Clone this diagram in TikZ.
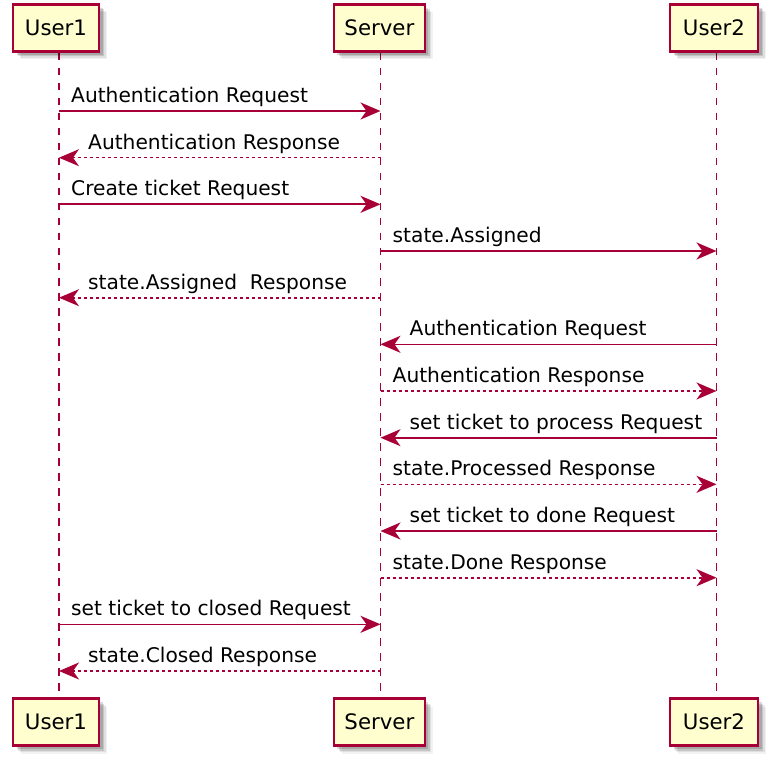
\documentclass[tikz,border=0pt]{standalone}
\usepackage{fontspec}
\setmainfont{DejaVu Sans}
\usetikzlibrary{arrows.meta,shadows}
\definecolor{puborder}{HTML}{A80036}
\definecolor{pufill}{HTML}{FEFECE}
\tikzset{
  partbox/.style={draw=puborder, fill=pufill, line width=2.2pt, minimum height=47pt, inner sep=0pt,
    font=\fontsize{21.3}{25}\selectfont,
    drop shadow={shadow xshift=8pt, shadow yshift=-8pt, fill=black, opacity=0.05},
    drop shadow={shadow xshift=6.5pt, shadow yshift=-6.5pt, fill=black, opacity=0.08},
    drop shadow={shadow xshift=5pt, shadow yshift=-5pt, fill=black, opacity=0.12},
    drop shadow={shadow xshift=3.5pt, shadow yshift=-3.5pt, fill=black, opacity=0.15}},
  lifeline/.style={draw=puborder, line width=1.5pt, dash pattern=on 7.5pt off 7.5pt},
  msg/.style={draw=puborder, line width=1.6pt, -{Stealth[length=20pt,width=17pt,inset=6pt]}},
  reply/.style={msg, dash pattern=on 3pt off 3pt},
  lbl/.style={anchor=base west, inner sep=0pt, font=\fontsize{20.2}{24}\selectfont},
}
\begin{document}
\begin{tikzpicture}[x=1pt,y=-1pt]
\useasboundingbox (0,0) rectangle (774,762);
% lifeline anchors
\coordinate (L1t) at (59,53);   \coordinate (L1b) at (59,697);
\coordinate (L2t) at (380.5,53);\coordinate (L2b) at (380.5,697);
\coordinate (L3t) at (716.5,53);\coordinate (L3b) at (716.5,697);
\draw[lifeline] (L1t) -- (L1b);
\draw[lifeline] (L2t) -- (L2b);
\draw[lifeline] (L3t) -- (L3b);
% participants
\node[partbox, minimum width=86pt] (u1t) at (56,28) {User1};
\node[partbox, minimum width=91pt] (svt) at (379.4,28) {Server};
\node[partbox, minimum width=88pt] (u2t) at (714,28) {User2};
\node[partbox, minimum width=86pt] (u1b) at (56,722) {User1};
\node[partbox, minimum width=91pt] (svb) at (379.4,722) {Server};
\node[partbox, minimum width=88pt] (u2b) at (714,722) {User2};
% messages
\coordinate (a1) at (59,111);      \coordinate (b1) at (380.5,111);
\draw[msg] (a1) -- (b1);
\node[lbl] (t1) at ([xshift=12pt,yshift=8.5pt]a1) {Authentication Request};

\coordinate (a2) at (380.5,157.7); \coordinate (b2) at (59,157.7);
\draw[reply] (a2) -- (b2);
\node[lbl] (t2) at ([xshift=29pt,yshift=8.5pt]b2) {Authentication Response};

\coordinate (a3) at (59,204.3);    \coordinate (b3) at (380.5,204.3);
\draw[msg] (a3) -- (b3);
\node[lbl] (t3) at ([xshift=12pt,yshift=8.5pt]a3) {Create ticket Request};

\coordinate (a4) at (380.5,251);   \coordinate (b4) at (716.5,251);
\draw[msg] (a4) -- (b4);
\node[lbl] (t4) at ([xshift=12pt,yshift=8.5pt]a4) {state.Assigned};

\coordinate (a5) at (380.5,297.7); \coordinate (b5) at (59,297.7);
\draw[reply] (a5) -- (b5);
\node[lbl] (t5) at ([xshift=29pt,yshift=8.5pt]b5) {state.Assigned~ Response};

\coordinate (a6) at (716.5,344.3); \coordinate (b6) at (380.5,344.3);
\draw[msg] (a6) -- (b6);
\node[lbl] (t6) at ([xshift=29pt,yshift=8.5pt]b6) {Authentication Request};

\coordinate (a7) at (380.5,391);   \coordinate (b7) at (716.5,391);
\draw[reply] (a7) -- (b7);
\node[lbl] (t7) at ([xshift=12pt,yshift=8.5pt]a7) {Authentication Response};

\coordinate (a8) at (716.5,437.7); \coordinate (b8) at (380.5,437.7);
\draw[msg] (a8) -- (b8);
\node[lbl] (t8) at ([xshift=29pt,yshift=8.5pt]b8) {set ticket to process Request};

\coordinate (a9) at (380.5,484.3); \coordinate (b9) at (716.5,484.3);
\draw[reply] (a9) -- (b9);
\node[lbl] (t9) at ([xshift=12pt,yshift=8.5pt]a9) {state.Processed Response};

\coordinate (a10) at (716.5,531);  \coordinate (b10) at (380.5,531);
\draw[msg] (a10) -- (b10);
\node[lbl] (t10) at ([xshift=29pt,yshift=8.5pt]b10) {set ticket to done Request};

\coordinate (a11) at (380.5,577.7);\coordinate (b11) at (716.5,577.7);
\draw[reply] (a11) -- (b11);
\node[lbl] (t11) at ([xshift=12pt,yshift=8.5pt]a11) {state.Done Response};

\coordinate (a12) at (59,624.3);   \coordinate (b12) at (380.5,624.3);
\draw[msg] (a12) -- (b12);
\node[lbl] (t12) at ([xshift=12pt,yshift=8.5pt]a12) {set ticket to closed Request};

\coordinate (a13) at (380.5,671);  \coordinate (b13) at (59,671);
\draw[reply] (a13) -- (b13);
\node[lbl] (t13) at ([xshift=29pt,yshift=8.5pt]b13) {state.Closed Response};
\end{tikzpicture}
\end{document}
